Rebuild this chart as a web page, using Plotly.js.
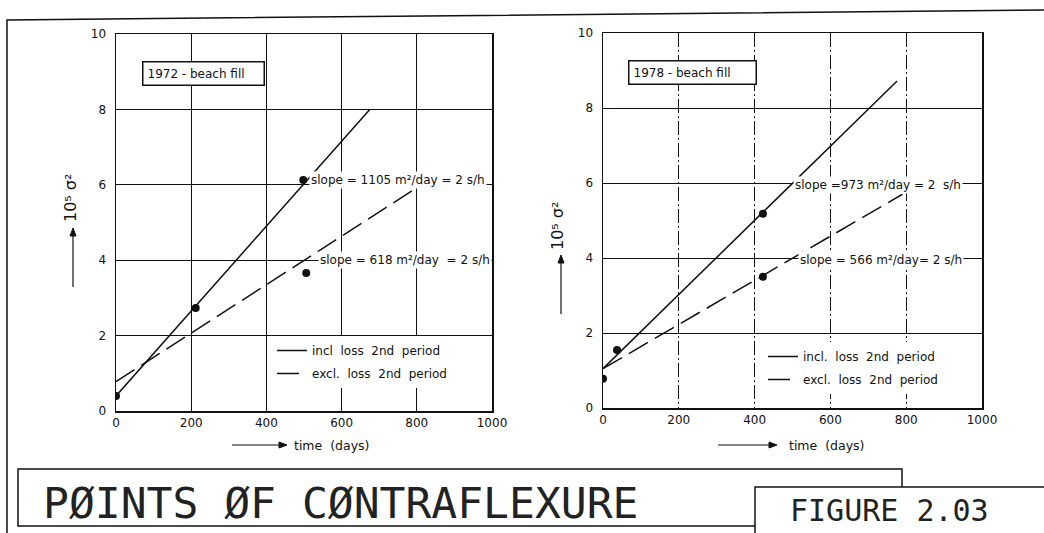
<!DOCTYPE html>
<html>
<head>
<meta charset="utf-8">
<script src="https://cdn.plot.ly/plotly-3.0.1.min.js"></script>
<style>html,body{margin:0;padding:0;background:#fff;}#chart{width:1044px;height:533px;}</style>
</head>
<body>
<div id="chart"></div>
<script>
// ---- data ----
// 1972 beach fill (left panel)
const inclX1972 = [0, 675];
const inclY1972 = [0.4, 8.0];
const exclX1972 = [0, 812];
const exclY1972 = [0.78, 6.0];
const obsX1972 = [0, 212, 498, 506];
const obsY1972 = [0.4, 2.73, 6.13, 3.66];
// 1978 beach fill (right panel)
const inclX1978 = [0, 776];
const inclY1978 = [1.05, 8.72];
const exclX1978 = [0, 790];
const exclY1978 = [1.05, 5.7];
const obsX1978 = [0, 37, 422, 422];
const obsY1978 = [0.78, 1.55, 5.18, 3.5];

const xTicks = [0, 200, 400, 600, 800, 1000];
const yTicks = [0, 2, 4, 6, 8, 10];
const seriesNames1972 = ['incl\u00a0 loss\u00a0 2nd\u00a0 period', 'excl.\u00a0 loss\u00a0 2nd\u00a0 period'];
const seriesNames1978 = ['incl.\u00a0 loss\u00a0 2nd\u00a0 period', 'excl.\u00a0 loss\u00a0 2nd\u00a0 period'];
const panelLabels = ['1972 - beach fill', '1978 - beach fill'];
const slopeLabels1972 = ['slope = 1105 m\u00b2/day = 2 s/h', 'slope = 618 m\u00b2/day\u00a0 = 2 s/h'];
const slopeLabels1978 = ['slope =973 m\u00b2/day = 2\u00a0 s/h', 'slope = 566 m\u00b2/day= 2 s/h'];
const yLabel = '10\u2075 \u03c3\u00b2';
const xLabel = 'time\u00a0\u00a0(days)';
const mainTitle = 'P\u00d8INTS \u00d8F C\u00d8NTRAFLEXURE';
const figLabel = 'FIGURE 2.03';

const INK = '#111';
const FONT = 'DejaVu Sans, sans-serif';
const MONO = 'DejaVu Sans Mono, monospace';
const dash = '22px,8px';

const traces = [
  {x: inclX1972, y: inclY1972, xaxis: 'x', yaxis: 'y', mode: 'lines', name: seriesNames1972[0],
   line: {color: INK, width: 1.5}, legend: 'legend', legendgroup: 'a'},
  {x: exclX1972, y: exclY1972, xaxis: 'x', yaxis: 'y', mode: 'lines', name: seriesNames1972[1],
   line: {color: INK, width: 1.5, dash: dash}, legend: 'legend', legendgroup: 'b'},
  {x: obsX1972, y: obsY1972, xaxis: 'x', yaxis: 'y', mode: 'markers', showlegend: false,
   marker: {color: INK, size: 8}},
  {x: inclX1978, y: inclY1978, xaxis: 'x2', yaxis: 'y2', mode: 'lines', name: seriesNames1978[0],
   line: {color: INK, width: 1.5}, legend: 'legend2', legendgroup: 'c'},
  {x: exclX1978, y: exclY1978, xaxis: 'x2', yaxis: 'y2', mode: 'lines', name: seriesNames1978[1],
   line: {color: INK, width: 1.5, dash: dash}, legend: 'legend2', legendgroup: 'd'},
  {x: obsX1978, y: obsY1978, xaxis: 'x2', yaxis: 'y2', mode: 'markers', showlegend: false,
   marker: {color: INK, size: 8}}
];

function xax(domain, griddash, anchor) {
  return {domain: domain, range: [0, 1000], tickvals: xTicks, ticktext: xTicks.map(String), anchor: anchor,
    showgrid: true, gridcolor: INK, gridwidth: 1, griddash: griddash,
    showline: true, linecolor: INK, linewidth: 1.5, mirror: true, zeroline: false,
    ticks: '', tickfont: {family: FONT, size: 12, color: INK}, fixedrange: true};
}
function yax(domain, anchor) {
  return {domain: domain, range: [0, 10], tickvals: yTicks, ticktext: yTicks.map(String), anchor: anchor,
    showgrid: true, gridcolor: INK, gridwidth: 1,
    showline: true, linecolor: INK, linewidth: 1.5, mirror: true, zeroline: false,
    ticks: '', ticklabelstandoff: 6, tickfont: {family: FONT, size: 12, color: INK}, fixedrange: true};
}

const W = 1044, H = 533;
const px = v => v / W;
const py = v => (H - v) / H;

const annFont = {family: FONT, size: 12, color: INK};
const annotations = [
  // panel labels (boxed)
  {xref: 'x', yref: 'y', x: 69, y: 9.28, xanchor: 'left', yanchor: 'top', text: panelLabels[0],
   showarrow: false, bgcolor: '#fff', bordercolor: INK, borderwidth: 1.5, borderpad: 4, width: 112, align: 'left', font: annFont},
  {xref: 'x2', yref: 'y2', x: 66, y: 9.28, xanchor: 'left', yanchor: 'top', text: panelLabels[1],
   showarrow: false, bgcolor: '#fff', bordercolor: INK, borderwidth: 1.5, borderpad: 4, width: 118, align: 'left', font: annFont},
  // slope labels
  {xref: 'x', yref: 'y', x: 512, y: 6.13, xanchor: 'left', yanchor: 'middle', text: slopeLabels1972[0], showarrow: false, bgcolor: '#fff', font: annFont},
  {xref: 'x', yref: 'y', x: 536, y: 4.0, xanchor: 'left', yanchor: 'middle', text: slopeLabels1972[1], showarrow: false, bgcolor: '#fff', font: annFont},
  {xref: 'x2', yref: 'y2', x: 501, y: 5.95, xanchor: 'left', yanchor: 'middle', text: slopeLabels1978[0], showarrow: false, bgcolor: '#fff', font: annFont},
  {xref: 'x2', yref: 'y2', x: 515, y: 3.95, xanchor: 'left', yanchor: 'middle', text: slopeLabels1978[1], showarrow: false, bgcolor: '#fff', font: annFont},
  // y axis labels
  {xref: 'paper', yref: 'paper', x: px(70), y: py(198), xanchor: 'center', yanchor: 'middle', text: yLabel, textangle: -90, showarrow: false, font: {family: FONT, size: 16, color: INK}},
  {xref: 'paper', yref: 'paper', x: px(558), y: py(226), xanchor: 'center', yanchor: 'middle', text: yLabel, textangle: -90, showarrow: false, font: {family: FONT, size: 16, color: INK}},
  // x axis labels
  {xref: 'paper', yref: 'paper', x: px(292), y: py(445), xanchor: 'left', yanchor: 'middle', text: xLabel, showarrow: false, font: {family: FONT, size: 12.5, color: INK}},
  {xref: 'paper', yref: 'paper', x: px(787), y: py(445), xanchor: 'left', yanchor: 'middle', text: xLabel, showarrow: false, font: {family: FONT, size: 12.5, color: INK}},
  // title block
  {xref: 'paper', yref: 'paper', x: px(41), y: py(503), xanchor: 'left', yanchor: 'middle', text: mainTitle, showarrow: false,
   font: {family: MONO, size: 43, color: '#222'}},
  {xref: 'paper', yref: 'paper', x: px(788), y: py(510), xanchor: 'left', yanchor: 'middle', text: figLabel, showarrow: false,
   font: {family: MONO, size: 30, color: '#222'}}
];

// arrow (line + filled head) drawn as shapes, in pixel positions converted to paper coordinates
function arrow(x0, y0, x1, y1) {
  const dx = x1 - x0, dy = y1 - y0, L = Math.hypot(dx, dy);
  const ux = dx / L, uy = dy / L, hl = 8, hw = 3;
  const bx = x1 - ux * hl, by = y1 - uy * hl;
  const p1 = [bx - uy * hw, by + ux * hw], p2 = [bx + uy * hw, by - ux * hw];
  return [
    {type: 'line', xref: 'paper', yref: 'paper', x0: px(x0), y0: py(y0), x1: px(bx), y1: py(by), line: {color: INK, width: 1.2}},
    {type: 'path', xref: 'paper', yref: 'paper',
     path: `M ${px(x1)} ${py(y1)} L ${px(p1[0])} ${py(p1[1])} L ${px(p2[0])} ${py(p2[1])} Z`,
     fillcolor: INK, line: {color: INK, width: 1}}
  ];
}

const shapes = [
  // outer frame
  {type: 'path', xref: 'paper', yref: 'paper', path: `M ${px(7)} ${py(533)} L ${px(7)} ${py(20)} L ${px(1044)} ${py(10)}`,
   line: {color: INK, width: 1.5}},
  // title box
  {type: 'rect', xref: 'paper', yref: 'paper', x0: px(18), x1: px(902), y0: py(526), y1: py(469),
   line: {color: INK, width: 1.5}, fillcolor: '#fff'},
  // figure-number box (overlaps the title box)
  {type: 'rect', xref: 'paper', yref: 'paper', x0: px(755), x1: px(1050), y0: py(540), y1: py(487),
   line: {color: INK, width: 1.5}, fillcolor: '#fff'},
  ...arrow(73, 287, 73, 228),
  ...arrow(561, 314, 561, 255),
  ...arrow(232, 445, 287, 445),
  ...arrow(718, 445, 777, 445)
];

const legendCommon = {xanchor: 'left', yanchor: 'top', bgcolor: '#fff', borderwidth: 0,
  font: {family: FONT, size: 12, color: INK}, traceorder: 'grouped', tracegroupgap: 4};

const layout = {
  width: W, height: H, margin: {l: 0, r: 0, t: 0, b: 0},
  paper_bgcolor: '#fff', plot_bgcolor: '#fff',
  xaxis: xax([px(116), px(492)], 'solid', 'y'),
  yaxis: yax([py(411), py(34)], 'x'),
  xaxis2: xax([px(603), px(982)], '14px,3px,2px,3px', 'y2'),
  yaxis2: yax([py(408), py(33)], 'x2'),
  legend: Object.assign({x: px(272), y: py(336)}, legendCommon),
  legend2: Object.assign({x: px(763), y: py(342)}, legendCommon),
  annotations: annotations,
  shapes: shapes,
  showlegend: true
};

Plotly.newPlot('chart', traces, layout, {staticPlot: true, displayModeBar: false});
</script>
</body>
</html>
